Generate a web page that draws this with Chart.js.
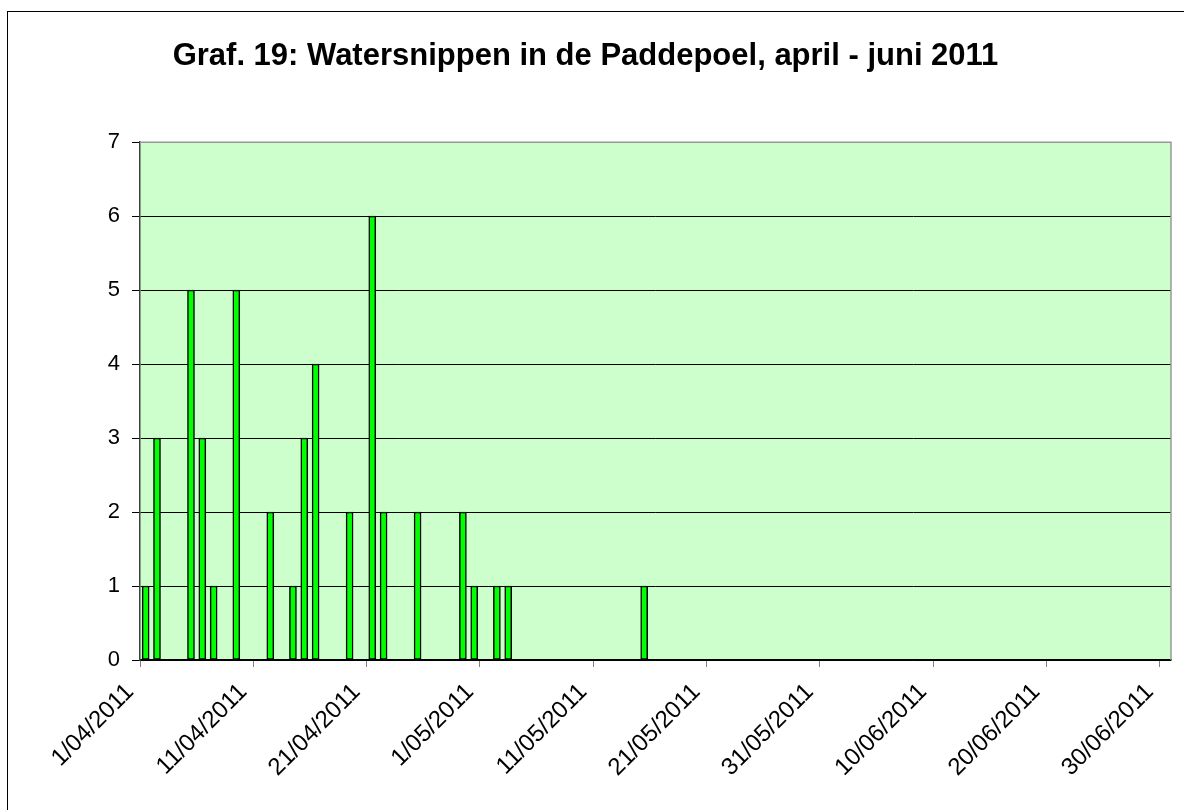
<!DOCTYPE html>
<html>
<head>
<meta charset="utf-8">
<title>Watersnippen in de Paddepoel</title>
<script src="https://cdn.jsdelivr.net/npm/chart.js@4"></script>
<style>
  html, body { margin: 0; padding: 0; background: #fff; overflow: hidden; }
  #frame { position: absolute; left: 7px; top: 11px; width: 1300px; height: 1000px;
           border-left: 1px solid #000; border-top: 1px solid #000; }
  #wrap { position: absolute; left: 0; top: 0; width: 1184px; height: 810px; }
</style>
</head>
<body>
<div id="frame"></div>
<div id="wrap"><canvas id="chart"></canvas></div>
<script>
// observation days and counts
const obsDates = ["1/04/2011", "2/04/2011", "5/04/2011", "6/04/2011", "7/04/2011", "9/04/2011",
    "12/04/2011", "14/04/2011", "15/04/2011", "16/04/2011", "19/04/2011", "21/04/2011",
    "22/04/2011", "25/04/2011", "29/04/2011", "30/04/2011", "2/05/2011", "3/05/2011", "15/05/2011"];
const counts = [1, 3, 5, 3, 1, 5, 2, 1, 3, 4, 2, 6, 2, 2, 2, 1, 1, 1, 1];

const tickLabels = ["1/04/2011", "11/04/2011", "21/04/2011", "1/05/2011", "11/05/2011",
    "21/05/2011", "31/05/2011", "10/06/2011", "20/06/2011", "30/06/2011"];
const firstDay = "1/04/2011";
const lastDay = "30/06/2011";

function dayIndex(s) {
    const [d, m, y] = s.split("/").map(Number);
    const [d0, m0, y0] = firstDay.split("/").map(Number);
    return Math.round((Date.UTC(y, m - 1, d) - Date.UTC(y0, m0 - 1, d0)) / 86400000);
}

const points = obsDates.map((s, i) => ({ x: dayIndex(s) + 0.5, y: counts[i] }));

const plotArea = {
    id: "plotArea",
    beforeDraw(chart) {
        const { ctx, chartArea: a } = chart;
        ctx.save();
        ctx.fillStyle = "#ccffcc";
        ctx.fillRect(a.left, a.top, a.right - a.left, a.bottom - a.top);
        ctx.restore();
    },
    afterDraw(chart) {
        const { ctx, chartArea: a } = chart;
        ctx.save();
        ctx.strokeStyle = "#999999";
        ctx.lineWidth = 1.5;
        ctx.beginPath();
        ctx.moveTo(a.left, a.top);
        ctx.lineTo(a.right, a.top);
        ctx.lineTo(a.right, a.bottom);
        ctx.stroke();
        ctx.restore();
    }
};

const font = "'Liberation Sans', Arial, sans-serif";

new Chart("chart", {
    type: "bar",
    data: {
        datasets: [{
            data: points,
            backgroundColor: "#00ff00",
            borderColor: "#000000",
            borderWidth: 1.5,
            borderSkipped: false,
            barThickness: 7
        }]
    },
    options: {
        responsive: true,
        maintainAspectRatio: false,
        animation: false,
        layout: { padding: { left: 0, right: 13, top: 0, bottom: 0 } },
        plugins: {
            legend: { display: false },
            tooltip: { enabled: false },
            title: {
                display: true,
                text: "Graf. 19: Watersnippen in de Paddepoel, april - juni 2011",
                color: "#000",
                font: { family: font, size: 31, weight: "bold" },
                padding: { top: 38, bottom: 67 }
            }
        },
        scales: {
            x: {
                type: "linear",
                offset: false,
                min: 0,
                max: dayIndex(lastDay) + 1,
                afterBuildTicks: s => { s.ticks = tickLabels.map(l => ({ value: dayIndex(l) })); },
                afterFit: s => { s.height = 150; s.paddingLeft = 0; s.paddingRight = 0; },
                ticks: {
                    autoSkip: false,
                    minRotation: 45,
                    maxRotation: 45,
                    padding: 11,
                    labelOffset: -10,
                    color: "#000",
                    font: { family: font, size: 24 },
                    callback: (v, i) => tickLabels[i]
                },
                grid: { offset: false, drawOnChartArea: false, tickLength: 7, tickColor: "#808080" },
                border: { color: "#000", width: 1.5 }
            },
            y: {
                min: 0,
                max: 7,
                afterFit: s => { s.width = 140; },
                ticks: {
                    stepSize: 1,
                    padding: 12,
                    color: "#000",
                    font: { family: font, size: 22 }
                },
                grid: {
                    color: c => (c.tick && c.tick.value === 7 ? "#999999" : "#000000"),
                    tickColor: "#000",
                    tickLength: 8
                },
                border: { color: "#404040", width: 1.5 }
            }
        }
    },
    plugins: [plotArea]
});
</script>
</body>
</html>
